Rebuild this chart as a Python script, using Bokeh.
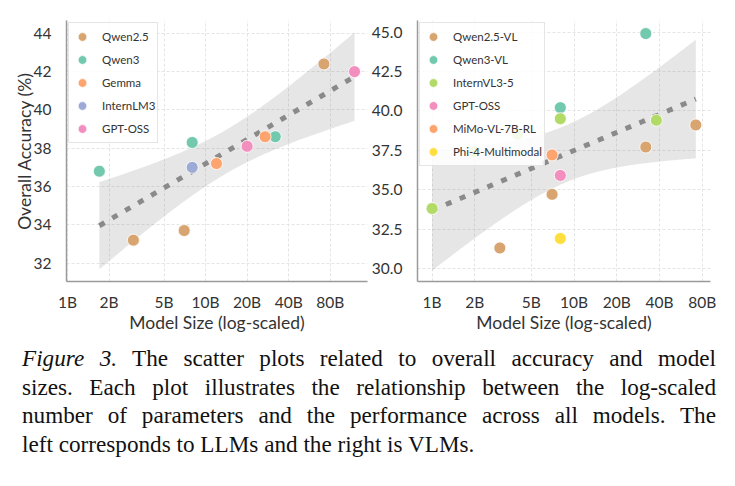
import numpy as np
from bokeh.plotting import figure
from bokeh.models import Range1d, FixedTicker, Legend, LegendItem, Div, PrintfTickFormatter
from bokeh.layouts import row, column
from bokeh.embed import file_html
from bokeh.resources import INLINE

# ---- LLMs: model size (billions of parameters) vs overall accuracy (%) ----
llm_names = ["Qwen2.5", "Qwen3", "Gemma", "InternLM3", "GPT-OSS"]
llm_sizes = {
    "Qwen2.5": [3, 7, 72],
    "Qwen3": [1.7, 8, 32],
    "Gemma": [12, 27],
    "InternLM3": [8],
    "GPT-OSS": [20, 120],
}
llm_acc = {
    "Qwen2.5": [33.2, 33.7, 42.4],
    "Qwen3": [36.8, 38.3, 38.6],
    "Gemma": [37.2, 38.6],
    "InternLM3": [37.0],
    "GPT-OSS": [38.1, 42.0],
}

# ---- VLMs ----
vlm_names = ["Qwen2.5-VL", "Qwen3-VL", "InternVL3-5", "GPT-OSS", "MiMo-VL-7B-RL", "Phi-4-Multimodal"]
vlm_sizes = {
    "Qwen2.5-VL": [3, 7, 32, 72],
    "Qwen3-VL": [8, 32],
    "InternVL3-5": [1, 2, 4, 8, 38],
    "GPT-OSS": [8],
    "MiMo-VL-7B-RL": [7],
    "Phi-4-Multimodal": [8],
}
vlm_acc = {
    "Qwen2.5-VL": [31.3, 34.7, 37.7, 39.1],
    "Qwen3-VL": [40.2, 44.9],
    "InternVL3-5": [33.8, 37.4, 38.5, 39.5, 39.4],
    "GPT-OSS": [35.9],
    "MiMo-VL-7B-RL": [37.2],
    "Phi-4-Multimodal": [31.9],
}

colors = {
    "Qwen2.5": "#d8a571", "Qwen2.5-VL": "#d8a571",
    "Qwen3": "#72c9ae", "Qwen3-VL": "#72c9ae",
    "Gemma": "#fda46f", "MiMo-VL-7B-RL": "#fda46f",
    "InternLM3": "#9eaad6",
    "GPT-OSS": "#f38fbe",
    "InternVL3-5": "#b2da67",
    "Phi-4-Multimodal": "#ffdf40",
}

x_ticks = [1, 2, 5, 10, 20, 40, 80]
x_tick_labels = ["1B", "2B", "5B", "10B", "20B", "40B", "80B"]

# two-sided 95% Student-t quantiles by residual degrees of freedom
T975 = {9: 2.262, 10: 2.228, 11: 2.201, 12: 2.179, 13: 2.160}

FONT = "Lato"
TEXT = "#333333"


def fit_with_band(sizes, accs):
    lx = np.log10(np.array(sizes, dtype=float))
    y = np.array(accs, dtype=float)
    n = len(lx)
    slope, icpt = np.polyfit(lx, y, 1)
    resid = y - (slope * lx + icpt)
    s = np.sqrt(np.sum(resid ** 2) / (n - 2))
    sxx = np.sum((lx - lx.mean()) ** 2)
    gx = np.linspace(lx.min(), lx.max(), 120)
    gy = slope * gx + icpt
    half = T975[n - 2] * s * np.sqrt(1.0 / n + (gx - lx.mean()) ** 2 / sxx)
    return 10 ** gx, gy, gy - half, gy + half


def make_panel(names, sizes, accs, x_rng, y_rng, y_ticks, width, left, right, y_label, y_fmt):
    p = figure(width=width, height=335, x_axis_type="log",
               x_range=Range1d(*x_rng), y_range=Range1d(*y_rng),
               output_backend="svg", toolbar_location=None,
               min_border_left=left, min_border_right=right,
               min_border_top=20, min_border_bottom=50)
    p.outline_line_color = None
    p.background_fill_color = "white"

    all_x = [v for nm in names for v in sizes[nm]]
    all_y = [v for nm in names for v in accs[nm]]
    bx, by, lo, hi = fit_with_band(all_x, all_y)
    p.varea(x=bx, y1=lo, y2=hi, fill_color="#808080", fill_alpha=0.2)
    p.line(x=bx, y=by, line_color="#8a8a8a", line_width=5, line_dash="6 9", line_cap="butt")

    items = []
    for nm in names:
        r = p.scatter(x=sizes[nm], y=accs[nm], size=12, fill_color=colors[nm], fill_alpha=1.0,
                      line_color="white", line_width=0.8)
        items.append(LegendItem(label=nm, renderers=[r]))

    leg = Legend(items=items, location="top_left")
    leg.label_text_font = FONT
    leg.label_text_font_size = "11.5px"
    leg.label_text_color = TEXT
    leg.glyph_height = 23
    leg.glyph_width = 22
    leg.label_height = 14
    leg.spacing = -7
    leg.padding = 2
    leg.margin = 2
    leg.label_standoff = 9
    leg.border_line_color = "#cccccc"
    leg.border_line_width = 1
    leg.background_fill_alpha = 0.85
    p.add_layout(leg)

    p.xaxis.ticker = FixedTicker(ticks=x_ticks)
    p.xaxis.major_label_overrides = {t: s for t, s in zip(x_ticks, x_tick_labels)}
    p.yaxis.ticker = FixedTicker(ticks=y_ticks)
    if y_fmt:
        p.yaxis.formatter = PrintfTickFormatter(format=y_fmt)
    for ax in (p.xaxis, p.yaxis):
        ax.axis_line_color = "#9a9a9a"
        ax.axis_line_width = 1.5
        ax.major_tick_line_color = None
        ax.minor_tick_line_color = None
        ax.major_label_text_font = FONT
        ax.major_label_text_font_size = "15.5px"
        ax.major_label_text_color = TEXT
        ax.axis_label_text_font = FONT
        ax.axis_label_text_font_size = "17.5px"
        ax.axis_label_text_font_style = "normal"
        ax.axis_label_text_color = TEXT
    p.xaxis.major_label_standoff = 5
    p.xaxis.axis_label_standoff = -2
    p.yaxis.major_label_standoff = 9
    p.yaxis.axis_label_standoff = -4
    p.xaxis.axis_label = "Model Size (log-scaled)"
    if y_label:
        p.yaxis.axis_label = y_label
    for g in (p.xgrid, p.ygrid):
        g.grid_line_color = "#e4e4e4"
        g.grid_line_dash = "3 2"
        g.grid_line_width = 1
    p.xgrid.minor_grid_line_color = None
    return p


p_llm = make_panel(llm_names, llm_sizes, llm_acc, (0.983, 149.0), (31.04, 44.67),
                   [32, 34, 36, 38, 40, 42, 44], 368, 66, 1, "Overall Accuracy (%)", None)
p_vlm = make_panel(vlm_names, vlm_sizes, vlm_acc, (0.789, 91.4), (29.17, 45.73),
                   [30.0, 32.5, 35.0, 37.5, 40.0, 42.5, 45.0], 367, 41, 25, None, "%.1f")

caption_lines = [
    "<i>Figure 3.</i> The scatter plots related to overall accuracy and model",
    "sizes. Each plot illustrates the relationship between the log-scaled",
    "number of parameters and the performance across all models. The",
    "left corresponds to LLMs and the right is VLMs.",
]
parts = []
for i, ln in enumerate(caption_lines):
    last = i == len(caption_lines) - 1
    align = "left" if last else "justify"
    parts.append(f'<div style="white-space:nowrap;text-align:{align};text-align-last:{align};">{ln}</div>')
caption_html = ('<div style="font-family:\'Liberation Serif\',serif;font-size:23.2px;line-height:28.5px;'
                'color:#111;width:694px;margin-left:22px;margin-top:9px;">' + "".join(parts) + "</div>")
caption = Div(text=caption_html, width=735, height=151, margin=(0, 0, 0, 0))

layout = column(row(p_llm, p_vlm), caption)
open("out.html", "w").write(file_html(layout, INLINE))
